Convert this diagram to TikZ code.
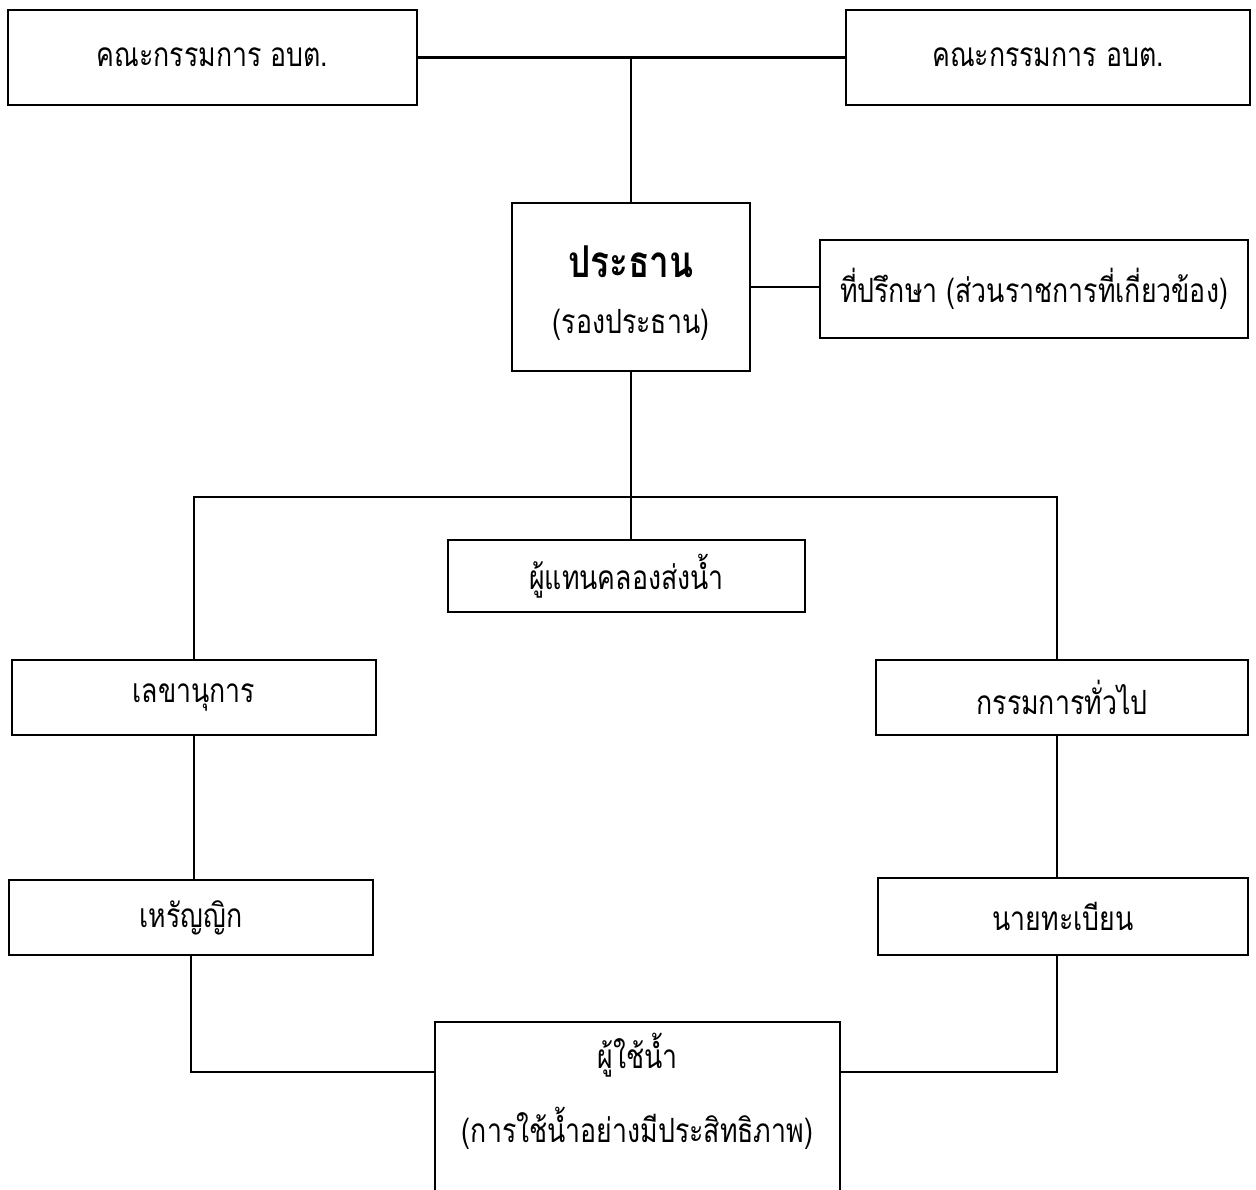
\documentclass[tikz,border=0pt]{standalone}
\usepackage{fontspec}
\newfontfamily\thaifont[Script=Thai, FakeStretch=0.8]{Loma}
\usetikzlibrary{positioning}

\tikzset{
  orgbox/.style={draw, line width=1.5pt, rectangle, inner sep=0pt, align=center},
  orgline/.style={line width=1.5pt},
  orgtext/.style={font=\thaifont\fontsize{19}{23}\selectfont}
}

\begin{document}
\begin{tikzpicture}[x=0.02cm, y=-0.02cm, orgtext]
\useasboundingbox (0,0) rectangle (1256,1189);

% Boxes
\node[orgbox, minimum width=8.18cm, minimum height=1.9cm] (boardleft) at (212.5,57.5) {คณะกรรมการ อบต.};
\node[orgbox, minimum width=8.08cm, minimum height=1.9cm] (boardright) at (1048,57.5) {คณะกรรมการ อบต.};
\node[orgbox, minimum width=4.76cm, minimum height=3.36cm] (chair) at (631,287) {};
\node[font=\thaifont\bfseries\fontsize{25}{30}\selectfont] (chairname) at (631,262) {ประธาน};
\node (chairvice) at (631,325) {(รองประธาน)};
\node[orgbox, minimum width=8.56cm, minimum height=1.96cm] (advisor) at (1034,289) {ที่ปรึกษา (ส่วนราชการที่เกี่ยวข้อง)};
\node[orgbox, minimum width=7.14cm, minimum height=1.44cm] (canal) at (626.5,576) {ผู้แทนคลองส่งน้ำ};
\node[orgbox, minimum width=7.28cm, minimum height=1.5cm] (secretary) at (194,697.5) {เลขานุการ};
\node[orgbox, minimum width=7.44cm, minimum height=1.5cm] (member) at (1062,697.5) {กรรมการทั่วไป};
\node[orgbox, minimum width=7.28cm, minimum height=1.5cm] (treasurer) at (191,917.5) {เหรัญญิก};
\node[orgbox, minimum width=7.4cm, minimum height=1.54cm] (registrar) at (1063,916.5) {นายทะเบียน};
\node[orgbox, minimum width=8.1cm, minimum height=3.56cm] (users) at (637.5,1111) {};
\node (usersname) at (637.5,1055) {ผู้ใช้น้ำ};
\node (usersnote) at (637.5,1128) {(การใช้น้ำอย่างมีประสิทธิภาพ)};

% Connectors
\coordinate (bus) at (630,497);
\draw[orgline] (boardleft.east) -- (boardright.west);
\draw[orgline] (chair.north) -- (chair.north |- boardleft.east);
\draw[orgline] (chair.east) -- (chair.east -| advisor.west);
\draw[orgline] (chair.south) -- (chair.south |- canal.north);
\draw[orgline] (secretary.north) -- (secretary.north |- bus) -- ([xshift=-0.1cm]member.north |- bus) -- ([xshift=-0.1cm]member.north);
\draw[orgline] (secretary.south) -- (secretary.south |- treasurer.north);
\draw[orgline] ([xshift=-0.1cm]member.south) -- ([xshift=-0.1cm]member.south |- registrar.north);
\draw[orgline] (treasurer.south) |- ([yshift=0.78cm]users.west);
\draw[orgline] ([xshift=-0.12cm]registrar.south) |- ([yshift=0.78cm]users.east);

\end{tikzpicture}
\end{document}
